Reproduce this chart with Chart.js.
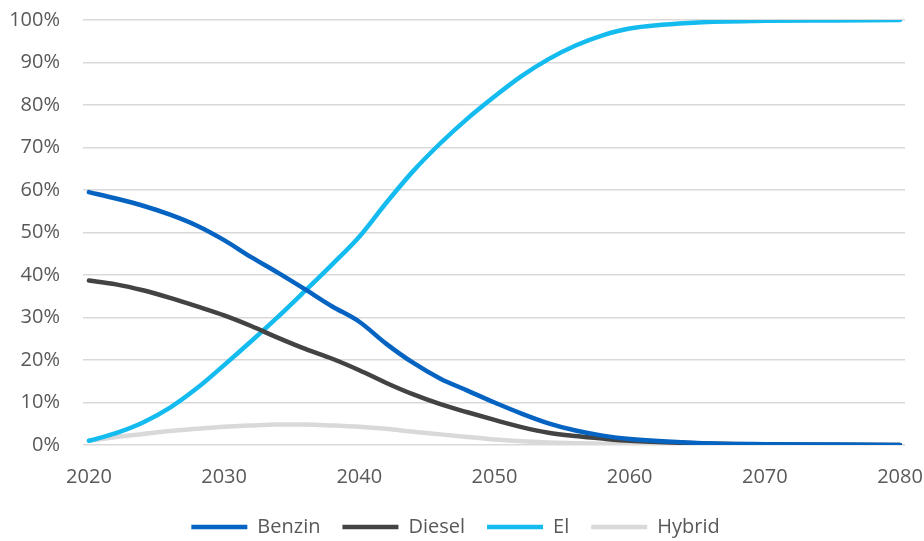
<!DOCTYPE html>
<html>
<head>
<meta charset="utf-8">
<script src="https://cdn.jsdelivr.net/npm/chart.js@4"></script>
<style>
  html, body { margin: 0; padding: 0; background: #fff; }
  #wrap { width: 924px; height: 541px; }
</style>
</head>
<body>
<div id="wrap"><canvas id="fuelChart"></canvas></div>
<script>
const years = [2020, 2022, 2024, 2026, 2028, 2030, 2032, 2034, 2036, 2038, 2040,
               2042, 2044, 2046, 2048, 2050, 2052, 2054, 2056, 2058, 2060,
               2065, 2070, 2075, 2080];

const benzin = [59.5, 58.0, 56.3, 54.2, 51.6, 48.2, 44.2, 40.5, 36.6, 32.6, 29.0,
                23.8, 19.3, 15.6, 12.8, 10.0, 7.4, 5.1, 3.4, 2.2, 1.4,
                0.5, 0.2, 0.1, 0.0];
const diesel = [38.7, 37.8, 36.4, 34.6, 32.6, 30.5, 28.0, 25.2, 22.6, 20.3, 17.6,
                14.6, 11.9, 9.6, 7.7, 5.9, 4.2, 2.9, 2.1, 1.5, 1.0,
                0.4, 0.15, 0.05, 0.0];
const el     = [1.0, 2.8, 5.3, 8.8, 13.4, 18.8, 24.4, 30.2, 36.3, 42.5, 49.0,
                57.0, 64.5, 71.0, 76.8, 82.0, 86.8, 90.8, 94.0, 96.4, 98.0,
                99.4, 99.8, 99.9, 100.0];
const hybrid = [1.0, 1.9, 2.6, 3.3, 3.8, 4.3, 4.6, 4.8, 4.8, 4.6, 4.3,
                3.8, 3.1, 2.5, 1.9, 1.3, 0.9, 0.6, 0.4, 0.3, 0.2,
                0.1, 0.05, 0.02, 0.0];

const yTicks = [0, 10, 20, 30, 40, 50, 60, 70, 80, 90, 100];
const xTicks = [2020, 2030, 2040, 2050, 2060, 2070, 2080];

function pts(values) {
    return years.map((yr, i) => ({ x: yr, y: values[i] / 100 }));
}

function series(label, values, color) {
    return {
        label: label,
        data: pts(values),
        borderColor: color,
        backgroundColor: color,
        borderWidth: 4.5,
        borderCapStyle: 'round',
        pointRadius: 0,
        cubicInterpolationMode: 'monotone',
        fill: false
    };
}

Chart.defaults.font.family = "'Open Sans', sans-serif";
Chart.defaults.color = '#595959';

const ctx = document.getElementById('fuelChart').getContext('2d');

const fuelChart = new Chart(ctx, {
    type: 'line',
    data: {
        datasets: [
            series('Benzin', benzin, '#0563C1'),
            series('Diesel', diesel, '#434343'),
            series('El', el, '#13BBEF'),
            series('Hybrid', hybrid, '#D9D9D9')
        ]
    },
    options: {
        responsive: true,
        maintainAspectRatio: false,
        animation: false,
        layout: { padding: { top: 20, left: 6, right: 19, bottom: -6 } },
        scales: {
            x: {
                type: 'linear',
                min: 2019.56,
                max: 2080.37,
                afterBuildTicks: axis => { axis.ticks = xTicks.map(v => ({ value: v })); },
                afterFit: axis => {
                    axis.height = 50;
                    axis.paddingLeft = 0;
                    axis.paddingRight = 0;
                },
                grid: { display: false },
                border: { display: false },
                ticks: {
                    font: { size: 20 },
                    padding: 12,
                    maxRotation: 0,
                    callback: v => String(v)
                }
            },
            y: {
                min: 0,
                max: 1,
                afterBuildTicks: axis => { axis.ticks = yTicks.map(v => ({ value: v / 100 })); },
                afterFit: axis => {
                    axis.width = 77;
                    axis.paddingTop = 0;
                    axis.paddingBottom = 0;
                },
                grid: { color: '#D9D9D9', lineWidth: 1.5, drawTicks: false },
                border: { display: false },
                ticks: {
                    font: { size: 20 },
                    padding: 23,
                    callback: v => Math.round(v * 100) + '%'
                }
            }
        },
        plugins: {
            legend: {
                position: 'bottom',
                labels: {
                    usePointStyle: true,
                    pointStyle: 'line',
                    pointStyleWidth: 56,
                    padding: 22,
                    font: { size: 20 }
                }
            },
            tooltip: { enabled: false }
        }
    }
});
</script>
</body>
</html>
